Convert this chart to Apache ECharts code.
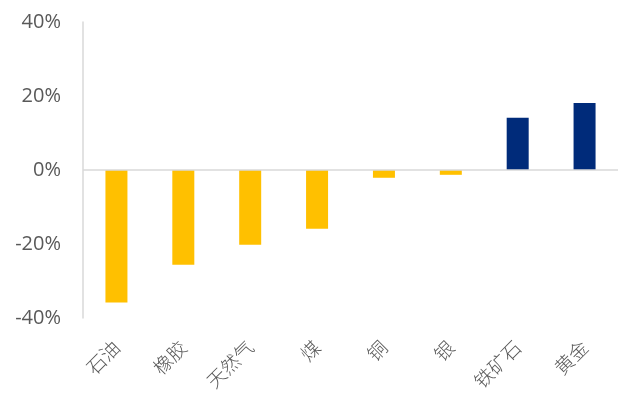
<!DOCTYPE html>
<html><head><meta charset="utf-8">
<script src="https://cdn.jsdelivr.net/npm/echarts@6/dist/echarts.min.js"></script>
<style>html,body{margin:0;padding:0;background:#fff}#c{width:619px;height:401px}</style>
</head><body><div id="c"></div>
<script>
const categories = ['石油','橡胶','天然气','煤','铜','银','铁矿石','黄金'];
const values = [-0.358, -0.256, -0.202, -0.159, -0.021, -0.013, 0.141, 0.181];
const yTicks = {min: -0.4, max: 0.4, interval: 0.2};
const NEG = '#FFC000', POS = '#002B7A';
const chart = echarts.init(document.getElementById('c'));
chart.setOption({
  animation: false,
  grid: {left: 83, right: 1, top: 22, bottom: 83},
  xAxis: {
    type: 'category', data: categories,
    axisLine: {show: false}, axisTick: {show: false},
    axisLabel: {rotate: 45, margin: 26, color: '#595959', fontSize: 19, fontWeight: 300,
      fontFamily: 'Noto Sans CJK SC', interval: 0}
  },
  yAxis: {
    type: 'value', min: yTicks.min, max: yTicks.max, interval: yTicks.interval,
    axisLine: {show: true, lineStyle: {color: '#D9D9D9', width: 1.5}},
    axisTick: {show: false}, splitLine: {show: false},
    axisLabel: {margin: 22, color: '#595959', fontSize: 20, fontFamily: 'Open Sans',
      formatter: v => Math.round(v * 100) + '%'}
  },
  series: [{
    type: 'bar', data: values, barWidth: 22,
    itemStyle: {color: p => p.value < 0 ? NEG : POS},
    markLine: {silent: true, symbol: 'none', label: {show: false},
      lineStyle: {color: '#D9D9D9', width: 1.5, type: 'solid'},
      data: [{yAxis: 0}]}
  }]
});
</script></body></html>
